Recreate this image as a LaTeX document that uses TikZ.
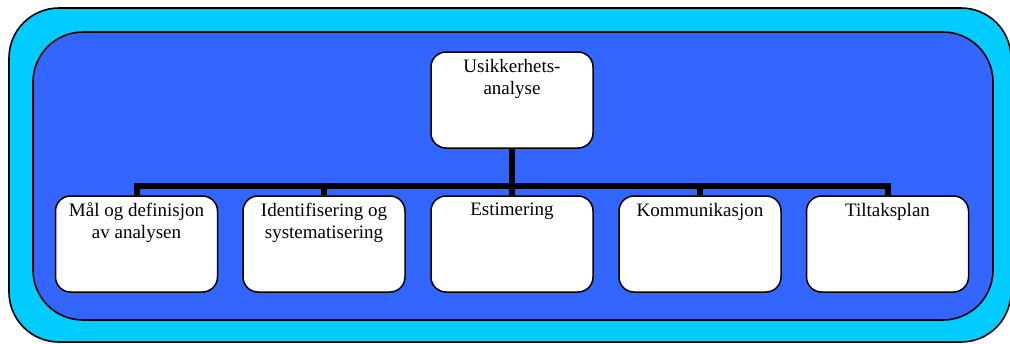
\documentclass[tikz,border=0pt]{standalone}
\usepackage{fontspec}
\setmainfont{Liberation Serif}
\definecolor{outercyan}{HTML}{00CCFF}
\definecolor{innerblue}{HTML}{3366FF}
\newcommand{\boxtxt}[1]{\parbox[t][84pt][t]{160pt}{\centering\fontsize{19pt}{22pt}\selectfont\vspace*{1pt}#1}}
\tikzset{
  frame/.style={draw=black, line width=1.6pt, rounded corners=50pt},
  item/.style={draw=black, fill=white, line width=1.5pt, rounded corners=15pt,
    minimum width=162pt, minimum height=96pt, inner sep=0pt, text=black},
  conn/.style={draw=black, line width=6pt}
}
\begin{document}
\begin{tikzpicture}[x=1pt,y=-1pt]
\useasboundingbox (0,0) rectangle (1010,343);
\clip (0,0) rectangle (1010,343);
\fill[white] (0,0) rectangle (1010,343);
\path[frame, fill=outercyan] (9,8) rectangle (1011,342);
\path[frame, fill=innerblue] (33,32) rectangle (993,320);
\coordinate (bar) at (512,186);
\node[item] (top) at (512,100) {\boxtxt{Usikkerhets-\\analyse}};
\node[item] (c1) at (136.5,244) {\boxtxt{Mål og definisjon\\av analysen}};
\node[item] (c2) at (324,244) {\boxtxt{Identifisering og\\systematisering}};
\node[item] (c3) at (512,244) {\boxtxt{Estimering}};
\node[item] (c4) at (700,244) {\boxtxt{Kommunikasjon}};
\node[item] (c5) at (887.5,244) {\boxtxt{Tiltaksplan}};
\draw[conn] (top.south) -- (top.south |- bar);
\draw[conn] (c1.north) -- (c1.north |- bar) -- (c5.north |- bar) -- (c5.north);
\draw[conn] (c2.north) -- (c2.north |- bar);
\draw[conn] (c3.north) -- (c3.north |- bar);
\draw[conn] (c4.north) -- (c4.north |- bar);
\end{tikzpicture}
\end{document}
